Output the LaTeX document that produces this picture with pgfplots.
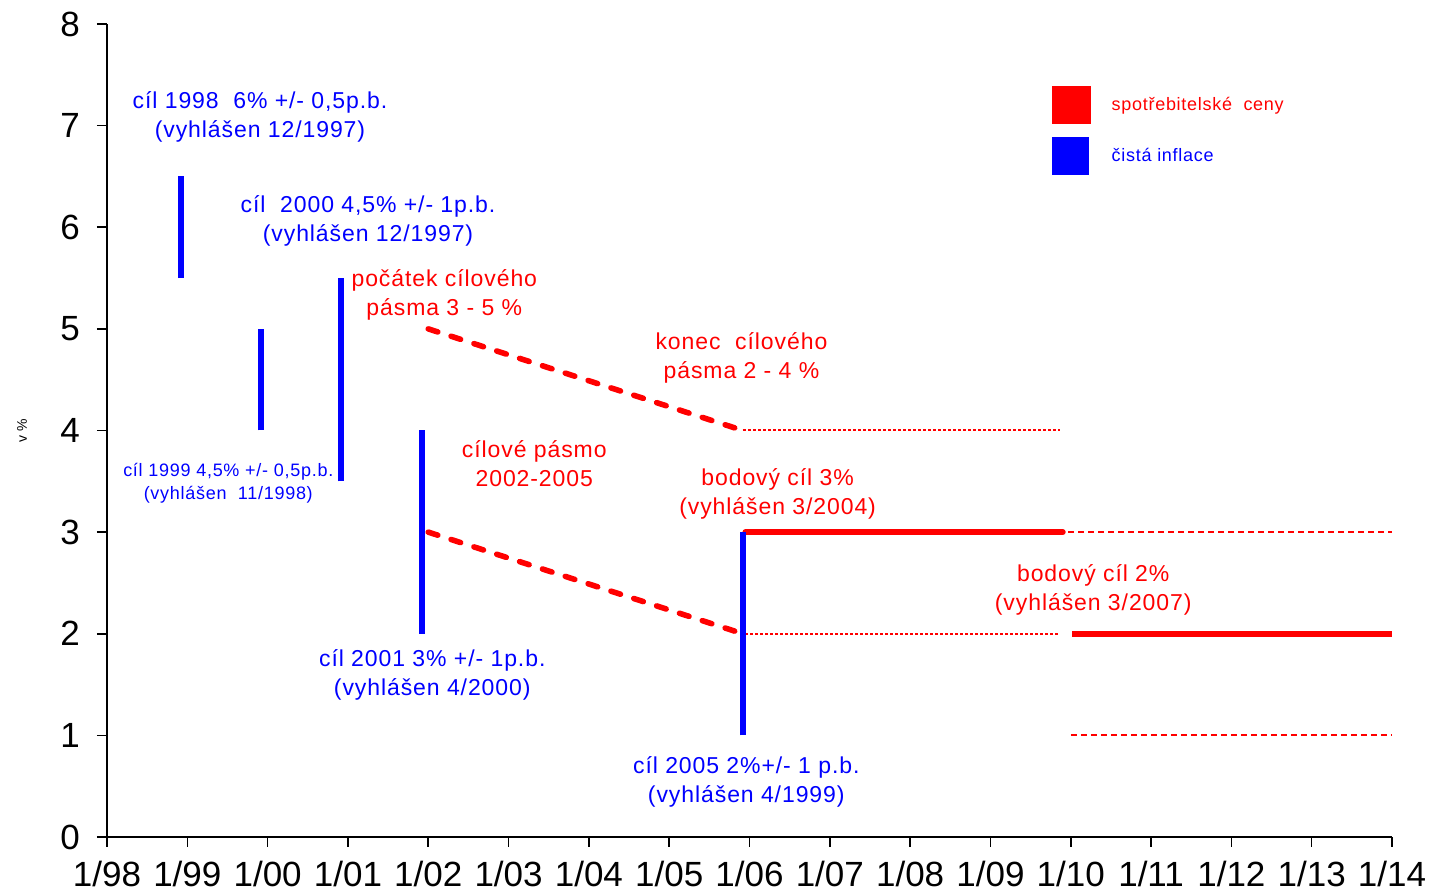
\documentclass[border=0pt]{standalone}
\usepackage{pgfplots}
\pgfplotsset{compat=1.18}
\usepackage{fontspec}
\setmainfont{Liberation Sans}
\newfontfamily\annfont[LetterSpace=4]{Liberation Sans}

\definecolor{cnbred}{RGB}{255,0,0}
\definecolor{cnbblue}{RGB}{0,0,255}

\begin{document}
\begin{tikzpicture}
\begin{axis}[
    scale only axis,
    width=642.5pt, height=406.5pt,
    xmin=0, xmax=16, ymin=0, ymax=8,
    axis x line*=bottom,
    axis y line*=left,
    axis line style={line width=0.8pt, -},
    tick style={line width=0.8pt, black},
    tick align=outside,
    major tick length=5pt,
    xtick={0,...,16},
    xticklabels={1/98,1/99,1/00,1/01,1/02,1/03,1/04,1/05,1/06,1/07,1/08,1/09,1/10,1/11,1/12,1/13,1/14},
    ytick={0,...,8},
    /pgf/number format/assume math mode=true,
    tick label style={font=\fontsize{17.5}{20}\selectfont},
    xticklabel style={yshift=-3.5pt},
    yticklabel style={xshift=-5pt},
    ylabel={v \%},
    ylabel style={at={(axis description cs:0,0.5)}, anchor=center, yshift=42.5pt, font=\fontsize{7}{8}\selectfont},
    clip=false,
    legend style={draw=none, fill=none, at={(axis cs:11.76,7.39)}, anchor=north west,
        inner sep=0pt, row sep=6.5pt, font=\annfont\fontsize{9}{11}\selectfont,
        cells={anchor=west}, /tikz/every odd column/.append style={column sep=8.5pt}},
    legend cell align=left,
]

% legend
\addlegendimage{legend image code/.code={\fill[cnbred] (0pt,-9.25pt) rectangle (19pt,9.25pt);}}
\addlegendentry{\textcolor{cnbred}{spotřebitelské~ ceny}}
\addlegendimage{legend image code/.code={\fill[cnbblue] (0pt,-9.25pt) rectangle (18pt,9.25pt);}}
\addlegendentry{\textcolor{cnbblue}{čistá inflace}}

% targets for net inflation (blue bands)
\addplot[color=cnbblue, line width=3pt, forget plot] coordinates {(0.917,5.5) (0.917,6.5)};
\addplot[color=cnbblue, line width=3pt, forget plot] coordinates {(1.917,4) (1.917,5)};
\addplot[color=cnbblue, line width=3pt, forget plot] coordinates {(2.917,3.5) (2.917,5.5)};
\addplot[color=cnbblue, line width=3pt, forget plot] coordinates {(3.917,2) (3.917,4)};

% target band 2002-2005
\addplot[color=cnbred, line width=2.8pt, line cap=round, dash pattern=on 5pt off 7pt, forget plot] coordinates {(4.0,5) (7.917,4)};
\addplot[color=cnbred, line width=2.8pt, line cap=round, dash pattern=on 5pt off 7pt, forget plot] coordinates {(4.0,3) (7.917,2)};
\addplot[color=cnbred, line width=0.7pt, dash pattern=on 1.5pt off 1pt, forget plot] coordinates {(7.917,4.005) (11.87,4.005)};
\addplot[color=cnbred, line width=0.8pt, dash pattern=on 1.5pt off 1pt, forget plot] coordinates {(7.95,1.998) (11.87,1.998)};

% point target 3 %
\addplot[color=cnbred, line width=3pt, line cap=round, forget plot] coordinates {(7.95,3) (11.9,3)};
\addplot[color=cnbred, line width=1pt, dash pattern=on 3pt off 2pt, forget plot] coordinates {(11.97,3) (16,3)};

% point target 2 %
\addplot[color=cnbred, line width=3pt, forget plot] coordinates {(12.02,2) (16,2)};
\addplot[color=cnbred, line width=1pt, dash pattern=on 3pt off 2pt, forget plot] coordinates {(12.0,1.005) (16,1.005)};

% target 2005 (blue)
\addplot[color=cnbblue, line width=3pt, forget plot] coordinates {(7.917,1) (7.917,3)};

% annotations
\begin{scope}[every node/.style={align=center, font=\annfont\fontsize{11.5}{14.5}\selectfont}]
\node[text=cnbblue] at (axis cs:1.905,7.09) {cíl 1998~ 6\% +/- 0,5p.b.\\(vyhlášen 12/1997)};
\node[text=cnbblue] at (axis cs:3.25,6.06) {cíl~ 2000 4,5\% +/- 1p.b.\\(vyhlášen 12/1997)};
\node[text=cnbred] at (axis cs:4.20,5.33) {počátek cílového\\pásma 3 - 5 \%};
\node[text=cnbred] at (axis cs:7.90,4.71) {konec~ cílového\\pásma 2 - 4 \%};
\node[text=cnbred] at (axis cs:5.32,3.67) {cílové pásmo\\2002-2005};
\node[text=cnbred] at (axis cs:8.35,3.38) {bodový cíl 3\%\\(vyhlášen 3/2004)};
\node[text=cnbblue] at (axis cs:4.05,1.59) {cíl 2001 3\% +/- 1p.b.\\(vyhlášen 4/2000)};
\node[text=cnbred] at (axis cs:12.28,2.43) {bodový cíl 2\%\\(vyhlášen 3/2007)};
\node[text=cnbblue] at (axis cs:7.96,0.545) {cíl 2005 2\%+/- 1 p.b.\\(vyhlášen 4/1999)};
\end{scope}
\node[text=cnbblue, align=center, font=\annfont\fontsize{9}{11.5}\selectfont] at (axis cs:1.51,3.48) {cíl 1999 4,5\% +/- 0,5p.b.\\(vyhlášen~ 11/1998)};
\end{axis}
\pgfresetboundingbox
\path[use as bounding box] ([shift={(-53.5pt,-28pt)}]current axis.south west) rectangle ([shift={(20pt,12pt)}]current axis.north east);
\end{tikzpicture}
\end{document}
